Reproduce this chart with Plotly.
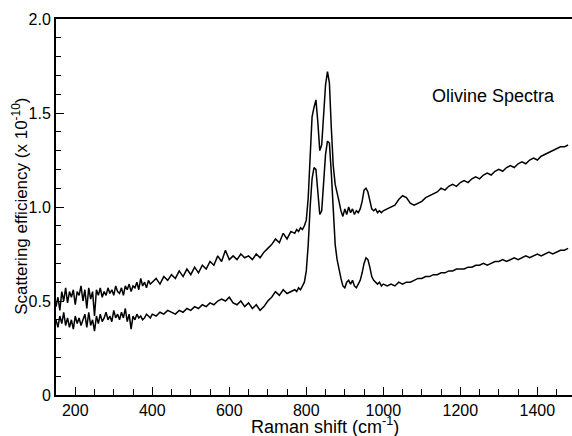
import plotly.graph_objects as go

# wavenumber grid (cm-1)
wavenumber = (list(range(150, 401, 5)) + list(range(410, 771, 10))
              + list(range(775, 1001, 5)) + list(range(1010, 1481, 10)))

upper = [
    # 150-400 step 5
    0.47, 0.52, 0.45, 0.55, 0.50, 0.57, 0.49, 0.55, 0.52, 0.56,
    0.48, 0.55, 0.53, 0.58, 0.50, 0.56, 0.46, 0.57, 0.51, 0.55,
    0.42, 0.56, 0.53, 0.57, 0.52, 0.55, 0.53, 0.57, 0.54, 0.56,
    0.53, 0.58, 0.55, 0.54, 0.57, 0.53, 0.58, 0.56, 0.59, 0.55,
    0.58, 0.57, 0.60, 0.56, 0.62, 0.58, 0.60, 0.57, 0.61, 0.59,
    0.60,
    # 410-770 step 10
    0.62, 0.59, 0.63, 0.61, 0.64, 0.62, 0.66, 0.63, 0.67, 0.64,
    0.68, 0.65, 0.69, 0.67, 0.71, 0.69, 0.74, 0.71, 0.77, 0.72,
    0.74, 0.72, 0.75, 0.73, 0.74, 0.72, 0.75, 0.73, 0.76, 0.78,
    0.80, 0.83, 0.81, 0.86, 0.83, 0.87, 0.86,
    # 775-1000 step 5
    0.88, 0.87, 0.89, 0.88, 0.90, 0.93, 1.05, 1.30, 1.48, 1.53,
    1.57, 1.45, 1.30, 1.33, 1.50, 1.65, 1.72, 1.66, 1.42, 1.22,
    1.12, 1.08, 1.03, 0.98, 0.95, 0.99, 0.96, 1.00, 0.97, 0.99,
    0.96, 0.98, 0.97, 0.99, 1.03, 1.09, 1.10, 1.08, 1.04, 0.99,
    0.98, 0.99, 0.97, 0.98, 0.97, 0.98,
    # 1010-1480 step 10
    0.99, 1.00, 1.01, 1.04, 1.06, 1.05, 1.02, 1.01, 1.02, 1.03,
    1.05, 1.06, 1.07, 1.08, 1.10, 1.09, 1.11, 1.12, 1.11, 1.13,
    1.14, 1.13, 1.15, 1.16, 1.15, 1.17, 1.18, 1.17, 1.19, 1.20,
    1.19, 1.21, 1.22, 1.21, 1.23, 1.24, 1.23, 1.25, 1.26, 1.25,
    1.27, 1.28, 1.29, 1.30, 1.31, 1.32, 1.32, 1.33,
]

lower = [
    # 150-400 step 5
    0.40, 0.36, 0.42, 0.38, 0.44, 0.37, 0.41, 0.36, 0.40, 0.35,
    0.42, 0.38, 0.41, 0.37, 0.40, 0.43, 0.36, 0.44, 0.37, 0.40,
    0.34, 0.42, 0.38, 0.43, 0.39, 0.41, 0.44, 0.40, 0.42, 0.39,
    0.45, 0.41, 0.43, 0.40, 0.44, 0.41, 0.46, 0.39, 0.43, 0.35,
    0.42, 0.40, 0.43, 0.41, 0.42, 0.40, 0.41, 0.43, 0.42, 0.41,
    0.43,
    # 410-770 step 10
    0.42, 0.44, 0.43, 0.45, 0.44, 0.43, 0.45, 0.44, 0.46, 0.45,
    0.47, 0.46, 0.48, 0.47, 0.49, 0.48, 0.50, 0.51, 0.50, 0.52,
    0.49, 0.48, 0.50, 0.47, 0.49, 0.46, 0.48, 0.45, 0.47, 0.50,
    0.52, 0.55, 0.53, 0.56, 0.54, 0.55, 0.56,
    # 775-1000 step 5
    0.55, 0.57, 0.56, 0.58, 0.60, 0.66, 0.80, 1.00, 1.15, 1.21,
    1.20, 1.08, 0.96, 0.98, 1.15, 1.28, 1.35, 1.34, 1.18, 0.95,
    0.80, 0.72, 0.66, 0.62, 0.58, 0.57, 0.60, 0.61, 0.59, 0.61,
    0.58, 0.57, 0.59, 0.61, 0.65, 0.70, 0.73, 0.72, 0.68, 0.63,
    0.61, 0.60, 0.59, 0.60, 0.58, 0.59,
    # 1010-1480 step 10
    0.58, 0.59, 0.58, 0.60, 0.59, 0.60, 0.60, 0.61, 0.62, 0.62,
    0.63, 0.63, 0.64, 0.64, 0.65, 0.65, 0.66, 0.66, 0.67, 0.67,
    0.67, 0.68, 0.68, 0.69, 0.69, 0.70, 0.69, 0.70, 0.71, 0.71,
    0.72, 0.71, 0.72, 0.73, 0.72, 0.73, 0.74, 0.73, 0.74, 0.75,
    0.74, 0.75, 0.76, 0.75, 0.76, 0.77, 0.77, 0.78,
]

x_ticks = [200, 400, 600, 800, 1000, 1200, 1400]
y_ticks = [0, 0.5, 1.0, 1.5, 2.0]
y_tick_labels = ["0", "0.5", "1.0", "1.5", "2.0"]

FONT = "Liberation Sans, Arial, sans-serif"

fig = go.Figure()
for series in (upper, lower):
    fig.add_trace(go.Scatter(x=wavenumber, y=series, mode="lines",
                             line=dict(color="black", width=1.5),
                             showlegend=False))

fig.add_annotation(x=1285, y=1.59, text="Olivine Spectra", showarrow=False,
                   font=dict(family=FONT, size=18, color="black"))
# axis titles placed as annotations (exact positions)
fig.add_annotation(xref="paper", yref="paper", x=0.521, y=-0.081,
                   text="Raman shift (cm<sup>-1</sup>)", showarrow=False,
                   xanchor="center", yanchor="middle",
                   font=dict(family=FONT, size=18, color="black"))
fig.add_annotation(xref="paper", yref="paper", x=-0.07, y=0.503,
                   text="Scattering efficiency (x 10<sup>-10</sup>)",
                   showarrow=False, textangle=-90,
                   xanchor="center", yanchor="middle",
                   font=dict(family=FONT, size=17, color="black"))

fig.update_layout(
    width=572, height=436,
    margin=dict(l=56, r=0, t=19, b=41, autoexpand=False),
    paper_bgcolor="white", plot_bgcolor="white",
    font=dict(family=FONT, size=16, color="black"),
    xaxis=dict(range=[150, 1490], tickvals=x_ticks, ticks="inside",
               ticklen=8, tickwidth=1, tickcolor="black", automargin=False,
               minor=dict(dtick=50, tick0=0, ticks="inside", ticklen=6,
                          tickcolor="black", showgrid=False),
               showline=True, linecolor="black", linewidth=2, mirror=True,
               showgrid=False, zeroline=False),
    yaxis=dict(range=[0, 2.0], tickvals=y_ticks, ticktext=y_tick_labels,
               ticks="inside", ticklen=8, tickwidth=1, tickcolor="black",
               automargin=False,
               minor=dict(dtick=0.1, tick0=0, ticks="inside", ticklen=5,
                          tickcolor="black", showgrid=False),
               showline=True, linecolor="black", linewidth=2, mirror=False,
               showgrid=False, zeroline=False),
)

fig.write_html("out.html", config={"displayModeBar": False},
               post_script="document.body.style.margin='0';"
                           "document.body.style.padding='0';")
